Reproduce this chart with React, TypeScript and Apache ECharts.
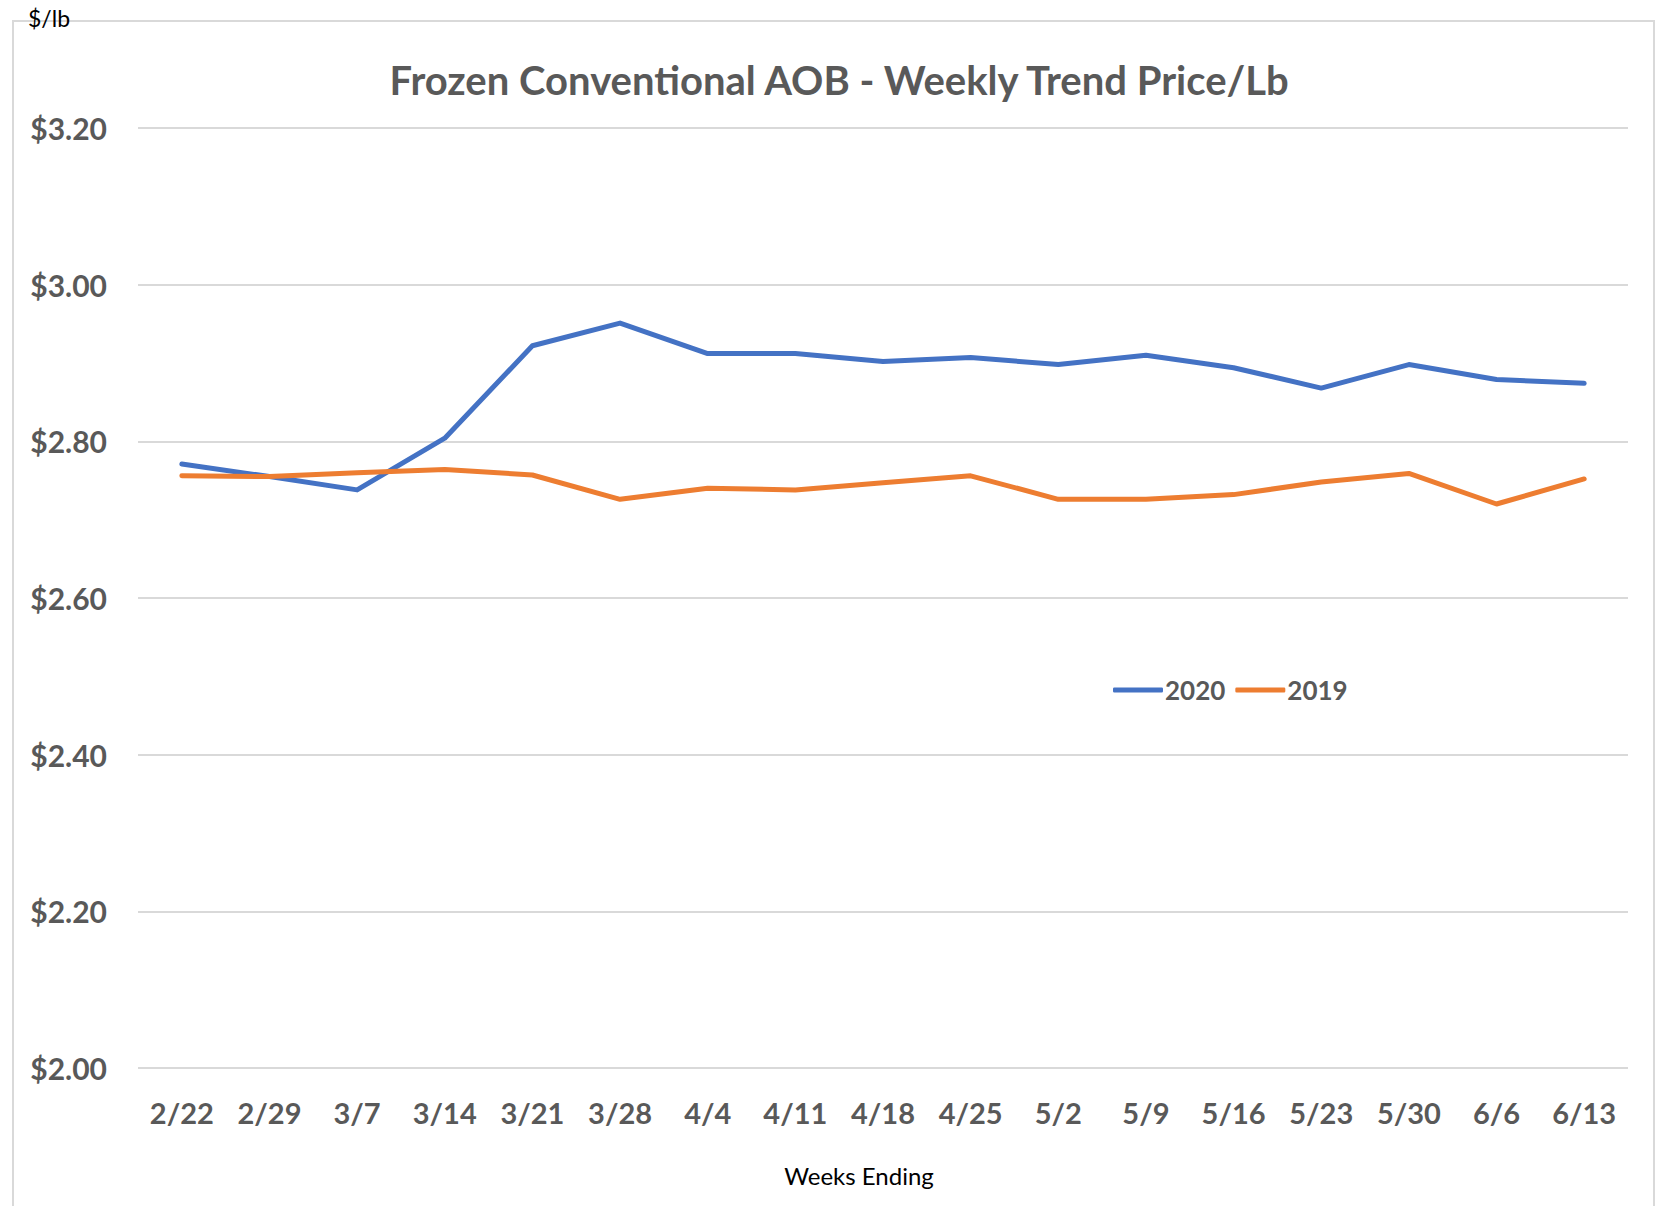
import React, { useEffect, useRef } from "react";
import * as echarts from "echarts";

const weeks = ["2/22", "2/29", "3/7", "3/14", "3/21", "3/28", "4/4", "4/11", "4/18", "4/25", "5/2", "5/9", "5/16", "5/23", "5/30", "6/6", "6/13"];
const prices2020 = [2.771, 2.755, 2.738, 2.804, 2.922, 2.951, 2.912, 2.912, 2.902, 2.907, 2.898, 2.910, 2.894, 2.868, 2.898, 2.879, 2.874];
const prices2019 = [2.756, 2.755, 2.760, 2.764, 2.757, 2.726, 2.740, 2.738, 2.747, 2.756, 2.726, 2.726, 2.732, 2.748, 2.759, 2.720, 2.752];
const yTicks = { min: 2.0, max: 3.2, step: 0.2 };

const FONT = "Lato, 'Open Sans', sans-serif";
const GREY = "#595959";

export default function App() {
  const ref = useRef<HTMLDivElement>(null);
  useEffect(() => {
    document.body.style.margin = "0";
    const chart = echarts.init(ref.current!, null, { renderer: "svg" });
    chart.setOption({
      animation: false,
      backgroundColor: "#ffffff",
      title: {
        text: "Frozen Conventional AOB - Weekly Trend Price/Lb",
        left: 834,
        textAlign: "center",
        top: 55,
        textStyle: { color: GREY, fontFamily: FONT, fontWeight: "bold", fontSize: 40 },
      },
      legend: {
        data: ["2020", "2019"],
        left: 1108,
        top: 672,
        itemWidth: 50,
        itemHeight: 5,
        itemGap: 10,
        icon: "roundRect",
        textStyle: { color: GREY, fontFamily: FONT, fontWeight: "bold", fontSize: 26, padding: [0, 0, 0, -3] },
      },
      grid: { left: 138, right: 35, top: 128, bottom: 138, containLabel: false },
      xAxis: {
        type: "category",
        data: weeks,
        boundaryGap: true,
        axisLine: { show: false },
        axisTick: { show: false },
        axisLabel: { color: GREY, fontFamily: FONT, fontWeight: "bold", fontSize: 29, margin: 30 },
      },
      yAxis: {
        type: "value",
        min: yTicks.min,
        max: yTicks.max,
        interval: yTicks.step,
        axisLine: { show: false },
        axisTick: { show: false },
        splitLine: { lineStyle: { color: "#d9d9d9", width: 2 } },
        axisLabel: {
          color: GREY,
          fontFamily: FONT,
          fontWeight: "bold",
          fontSize: 30,
          margin: 31,
          formatter: (v: number) => "$" + v.toFixed(2),
        },
      },
      graphic: [
        {
          type: "rect",
          shape: { x: 13, y: 21, width: 1641, height: 1200 },
          style: { fill: "none", stroke: "#d9d9d9", lineWidth: 2 },
          z: 0,
        },
        {
          type: "text",
          x: 28,
          y: 6,
          style: { text: "$/lb", fill: "#000000", font: `23px ${FONT}` },
          z: 10,
        },
        {
          type: "text",
          x: 859,
          y: 1175,
          style: { text: "Weeks Ending", fill: "#000000", font: `24px ${FONT}`, textAlign: "center", textVerticalAlign: "middle" },
          z: 10,
        },
      ],
      series: [
        {
          name: "2020",
          type: "line",
          data: prices2020,
          symbol: "none",
          lineStyle: { color: "#4472C4", width: 5, cap: "round", join: "round" },
          itemStyle: { color: "#4472C4" },
        },
        {
          name: "2019",
          type: "line",
          data: prices2019,
          symbol: "none",
          lineStyle: { color: "#ED7D31", width: 5, cap: "round", join: "round" },
          itemStyle: { color: "#ED7D31" },
        },
      ],
    });
    return () => chart.dispose();
  }, []);
  return <div ref={ref} style={{ width: 1663, height: 1206 }} />;
}
